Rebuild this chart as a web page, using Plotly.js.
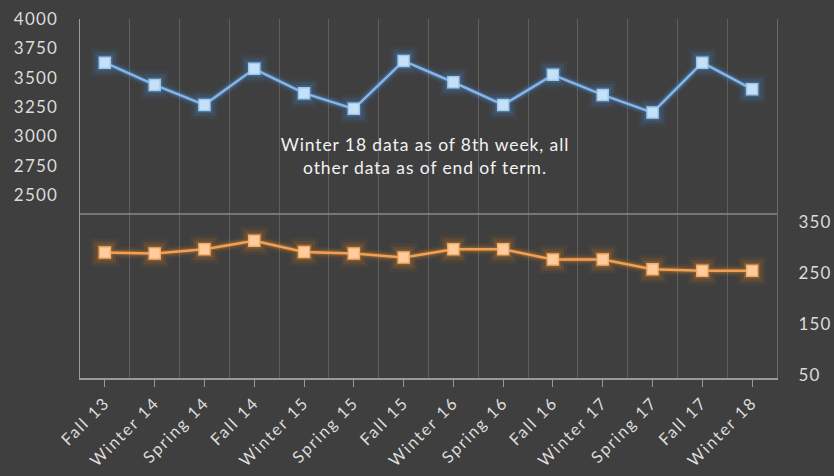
<!DOCTYPE html>
<html>
<head>
<meta charset="utf-8">
<script src="https://cdn.plot.ly/plotly-3.0.1.min.js"></script>
<style>
html,body{margin:0;padding:0;background:#3f3f3f;}
#chart{width:834px;height:476px;}
#chart .xtick text{letter-spacing:1.8px;}
#chart .ytick text, #chart .y2tick text{letter-spacing:1.2px;}
#chart .annotation-text{letter-spacing:0.9px;}
</style>
</head>
<body>
<div id="chart"></div>
<script>
const terms = ["Fall 13","Winter 14","Spring 14","Fall 14","Winter 15","Spring 15","Fall 15","Winter 16","Spring 16","Fall 16","Winter 17","Spring 17","Fall 17","Winter 18"];
const blueSeries = [3628,3438,3268,3575,3368,3234,3643,3461,3268,3524,3353,3202,3628,3402];
const orangeSeries = [290,288,296,313,291,288,280,296,296,276,276,257,254,254];
const leftTicks = [2500,2750,3000,3250,3500,3750,4000];
const rightTicks = [50,150,250,350];
const noteText = "Winter 18 data as of 8th week, all<br>other data as of end of term.";

const idx = terms.map((t,i)=>i);
const bounds = terms.map((t,i)=>i+0.5);
const fam = "Lato, 'Open Sans', sans-serif";
const tickFont = {family:fam, size:17, color:"#dcdcdc"};

function glow(y, axis, color, size, width, op){
  return {x:idx, y:y, yaxis:axis, type:'scatter', mode:'lines+markers', hoverinfo:'skip', showlegend:false,
    opacity:op, line:{color:color, width:width}, marker:{symbol:'square', size:size, color:color}};
}
const traces = [
  {x:[0], y:[null], xaxis:'x2', yaxis:'y', type:'scatter', mode:'markers', hoverinfo:'skip', showlegend:false},
  glow(blueSeries,'y','#3d85d6',28,12,0.07),
  glow(blueSeries,'y','#4a90e0',22,8,0.12),
  glow(blueSeries,'y','#5aa0ec',16,5,0.22),
  {x:idx, y:blueSeries, yaxis:'y', type:'scatter', mode:'lines+markers', showlegend:false,
   line:{color:'#86b6e8', width:2.5},
   marker:{symbol:'square', size:11, color:'#c6e0f8', line:{color:'#9ccbf2', width:1.5}}},
  glow(orangeSeries,'y2','#e07a10',28,12,0.07),
  glow(orangeSeries,'y2','#e8851f',22,8,0.12),
  glow(orangeSeries,'y2','#f09030',16,5,0.22),
  {x:idx, y:orangeSeries, yaxis:'y2', type:'scatter', mode:'lines+markers', showlegend:false,
   line:{color:'#f3a056', width:2.5},
   marker:{symbol:'square', size:11, color:'#ffcc9f', line:{color:'#f6b06a', width:1.5}}}
];

const layout = {
  width:834, height:476,
  margin:{l:80, r:57, t:19, b:98},
  paper_bgcolor:'#3f3f3f', plot_bgcolor:'#3f3f3f',
  font:tickFont,
  showlegend:false,
  xaxis:{range:[-0.5,13.5], tickvals:idx, ticktext:terms, tickangle:-45, showgrid:false, zeroline:false,
    showline:true, linecolor:'#9a9a9a', linewidth:1.5, ticks:'outside', ticklen:7, tickcolor:'#9a9a9a',
    tickfont:{family:fam, size:16.5, color:"#dcdcdc"}, ticklabelstandoff:0},
  xaxis2:{range:[-0.5,13.5], overlaying:'x', tickvals:bounds, showticklabels:false, showgrid:true,
    gridcolor:'#5e5e5e', gridwidth:1, zeroline:false, showline:false, ticks:''},
  yaxis:{range:[940,4000], tickvals:leftTicks, showgrid:false, zeroline:false, showline:true,
    linecolor:'#9a9a9a', linewidth:1.5, ticks:'', tickfont:tickFont, ticklabelstandoff:17},
  yaxis2:{range:[44.1,747], overlaying:'y', side:'right', tickvals:rightTicks, showgrid:false, zeroline:false,
    showline:true, linecolor:'#6a6a6a', linewidth:1, ticks:'', tickfont:tickFont, ticklabelstandoff:17},
  shapes:[{type:'line', xref:'paper', yref:'paper', x0:0, x1:1, y0:0.457, y1:0.457,
    line:{color:'#8a8a8a', width:1.5}}],
  annotations:[{xref:'paper', yref:'paper', x:0.495, y:0.618, text:noteText, showarrow:false,
    font:{family:fam, size:17.5, color:'#f2f2f2'}, align:'center'}]
};
Plotly.newPlot('chart', traces, layout, {displayModeBar:false, staticPlot:true});
</script>
</body>
</html>
